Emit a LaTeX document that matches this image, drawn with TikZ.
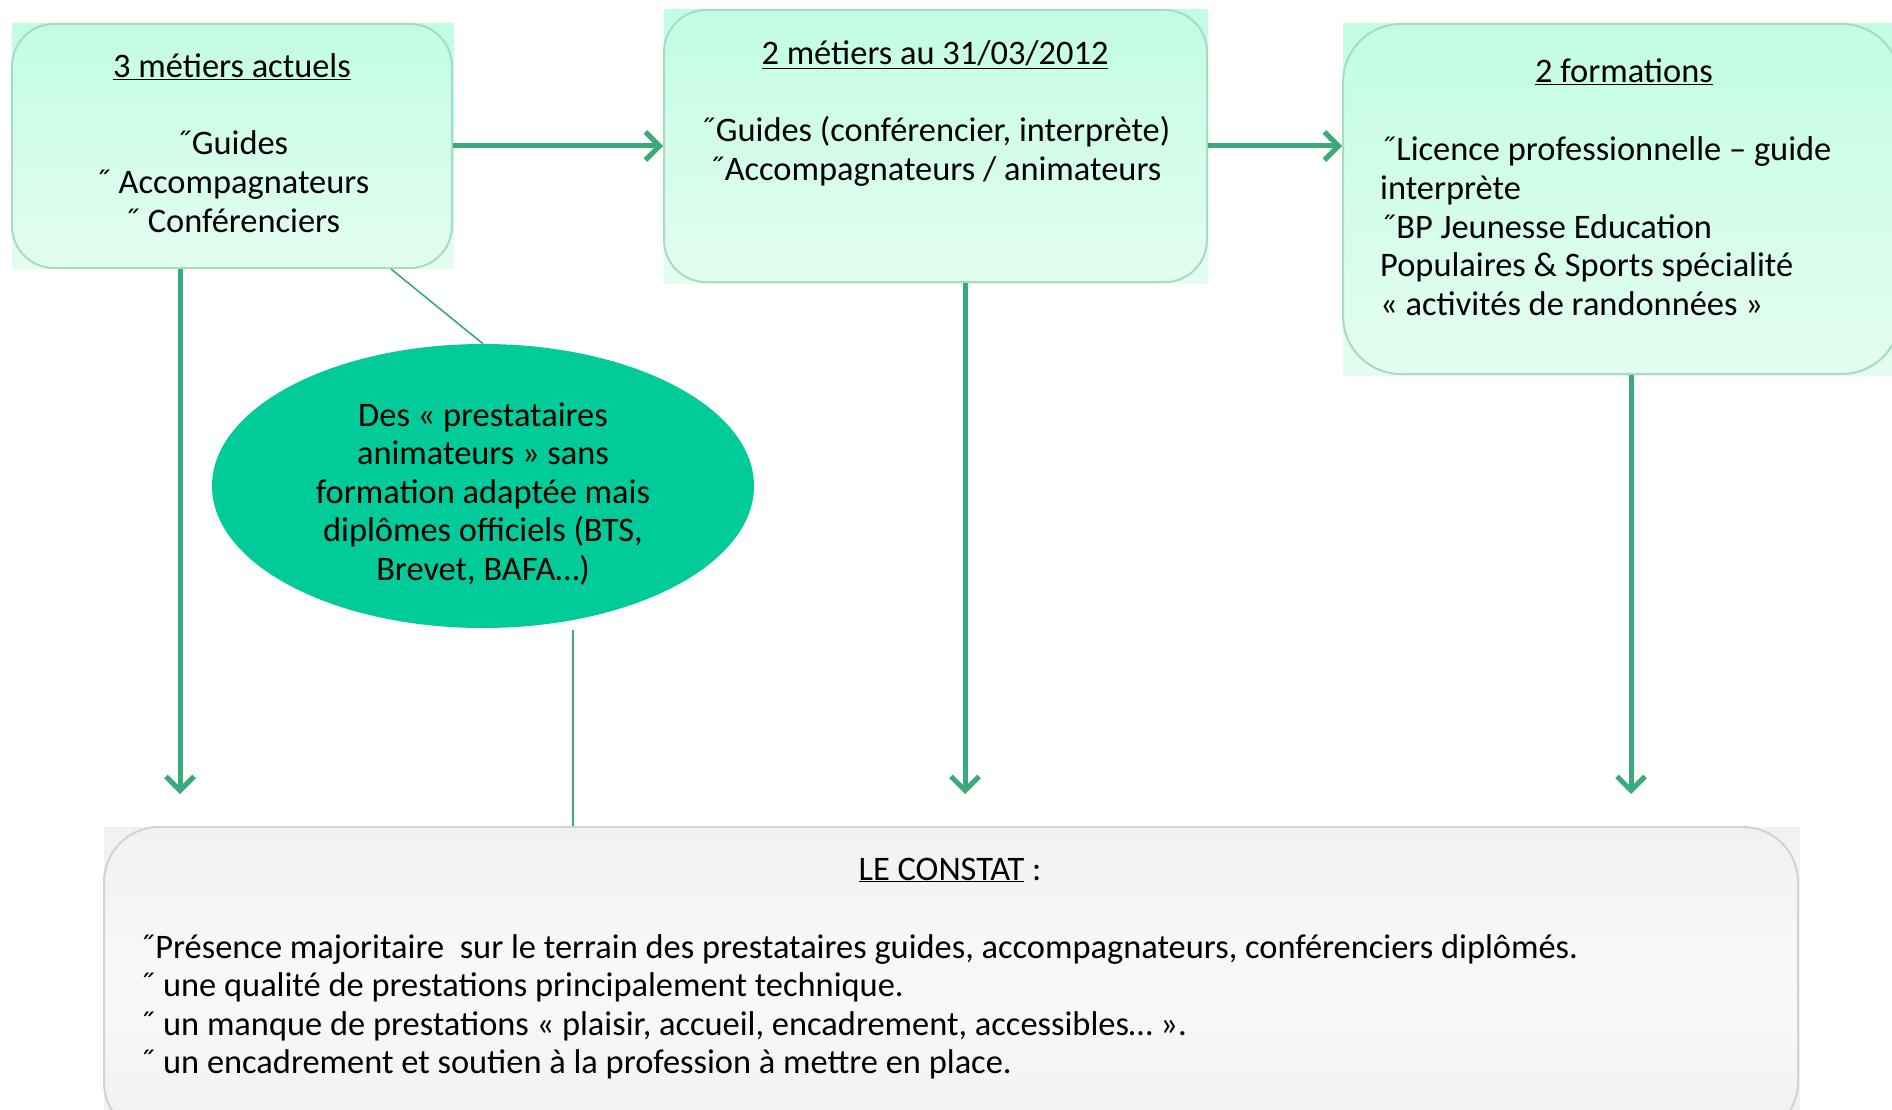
\documentclass[tikz,border=0pt]{standalone}
\usepackage{fontspec}
\setmainfont{Carlito}
\usetikzlibrary{arrows.meta,shapes.geometric,calc}
\definecolor{boxtop}{HTML}{C2FDE3}
\definecolor{boxbot}{HTML}{E4FDF1}
\definecolor{boxline}{HTML}{A3DDC2}
\definecolor{arr}{HTML}{3BAA7B}
\definecolor{ellc}{HTML}{01CB98}
\definecolor{gtop}{HTML}{F1F1F1}
\definecolor{gmid}{HTML}{F9F9F9}
\definecolor{gline}{HTML}{D3D3D3}
\newcommand\fsz{\fontsize{34.4}{38.6}\selectfont}
\newcommand\ul[1]{\underline{#1}}
\begin{document}
\begin{tikzpicture}[x=1pt,y=-1pt,
  greenbox/.style={draw=boxline, line width=2pt, rounded corners=#1, top color=boxtop, bottom color=boxbot, inner sep=0pt},
  greybox/.style={draw=gline, line width=2pt, rounded corners=#1, top color=gtop, bottom color=gtop, middle color=gmid, inner sep=0pt},
  greenbg/.style={top color=boxtop, bottom color=boxbot},
  greybg/.style={top color=gtop, bottom color=gtop, middle color=gmid},
  txt/.style={anchor=base, inner sep=0pt, font=\fsz, yshift=-2pt},
  ltxt/.style={anchor=base west, inner sep=0pt, font=\fsz, yshift=-2pt},
  bigarrow/.style={draw=arr, line width=5pt, -{Straight Barb[length=14pt,width=28pt]}},
  thin/.style={draw=arr, line width=1.6pt}]
\useasboundingbox (0,0) rectangle (1892,1110);
\fill[white] (0,0) rectangle (1892,1110);
\begin{scope}
\clip (0,0) rectangle (1892,1110);
% square backgrounds
\fill[greenbg] (12,24) rectangle (454,268);
\fill[greenbg] (664,10) rectangle (1208,283);
\fill[greenbg] (1343,24) rectangle (1892,375);
\fill[greybg] (104,827) rectangle (1800,1110);
% boxes
\node[greenbox=42pt, minimum width=440pt, minimum height=244pt] (box1) at (232,146) {};
\node[greenbox=42pt, minimum width=543pt, minimum height=272pt] (box2) at (935.5,146) {};
\node[greenbox=58pt, minimum width=557pt, minimum height=350pt] (box3) at (1621.5,199) {};
\node[greybox=55pt, minimum width=1694pt, minimum height=310pt] (bot) at (951,982) {};
\node[ellipse, fill=ellc, inner sep=0pt, minimum width=542pt, minimum height=284pt] (ell) at (483,486) {};
\end{scope}
% texts box1
\node[txt] (t1) at (232,76) {\ul{3 métiers actuels}};
\node[txt] (t1a) at (232,153) {˝Guides};
\node[txt] (t1b) at (232,191.6) {˝ Accompagnateurs};
\node[txt] (t1c) at (232,230.2) {˝ Conférenciers};
% texts box2
\node[txt] (t2) at (935,63) {\ul{2 métiers au 31/03/2012}};
\node[txt] (t2a) at (935,140) {˝Guides (conférencier, interprète)};
\node[txt] (t2b) at (935,178.6) {˝Accompagnateurs / animateurs};
% texts box3
\node[txt] (t3) at (1624,81) {\ul{2 formations}};
\node[ltxt] (t3a) at (1380,159) {˝Licence professionnelle – guide};
\node[ltxt] (t3b) at (1380,197.6) {interprète};
\node[ltxt] (t3c) at (1380,236.2) {˝BP Jeunesse Education};
\node[ltxt] (t3d) at (1380,274.8) {Populaires \& Sports spécialité};
\node[ltxt] (t3e) at (1380,313.4) {« activités de randonnées »};
% ellipse text
\node[txt] (e1) at (483,424) {Des « prestataires};
\node[txt] (e2) at (483,462.6) {animateurs » sans};
\node[txt] (e3) at (483,501.2) {formation adaptée mais};
\node[txt] (e4) at (483,539.8) {diplômes officiels (BTS,};
\node[txt] (e5) at (483,578.4) {Brevet, BAFA…)};
% bottom text
\node[txt] (b0) at (950,878) {\ul{LE CONSTAT} :};
\node[ltxt] (b1) at (139,956) {˝Présence majoritaire \ sur le terrain des prestataires guides, accompagnateurs, conférenciers diplômés.};
\node[ltxt] (b2) at (139,994.6) {˝ une qualité de prestations principalement technique.};
\node[ltxt] (b3) at (139,1033.2) {˝ un manque de prestations « plaisir, accueil, encadrement, accessibles… ».};
\node[ltxt] (b4) at (139,1071.8) {˝ un encadrement et soutien à la profession à mettre en place.};
% connectors
\draw[bigarrow] (box1.east) -- (box2.west);
\draw[bigarrow] (box2.east) -- (box2.east -| box3.west);
\coordinate (v1) at (180,794);
\coordinate (v2) at (965,794);
\coordinate (v3) at (1631,794);
\draw[bigarrow] (v1 |- box1.south) -- (v1);
\draw[bigarrow] (v2 |- box2.south) -- (v2);
\draw[bigarrow] (v3 |- box3.south) -- (v3);
\coordinate (d1) at ($(box1.south west)+(380,0)$);
\draw[thin] (d1) -- (ell.north);
\coordinate (d2) at (573,630);
\draw[thin] (d2) -- (d2 |- bot.north);
\end{tikzpicture}
\end{document}
